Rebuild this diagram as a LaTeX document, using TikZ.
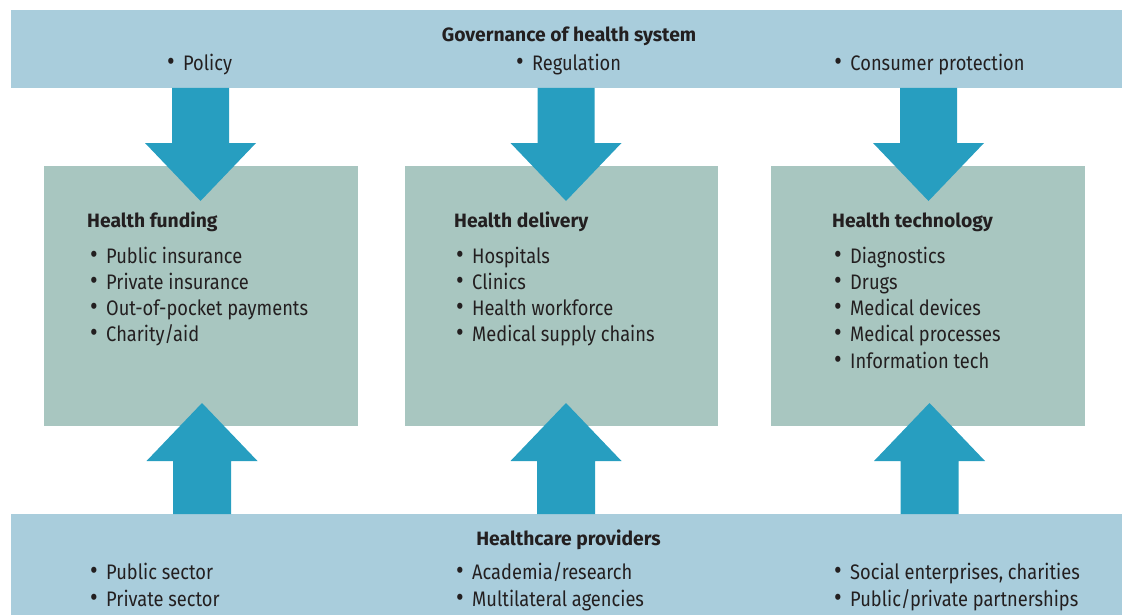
\documentclass[tikz,border=0pt]{standalone}
\usepackage{fontspec}
\setmainfont{Fira Sans}
\newfontfamily\itemfont{Fira Sans}[FakeStretch=0.87]
\definecolor{band}{HTML}{A9CDDC}
\definecolor{boxg}{HTML}{A8C6C0}
\definecolor{arr}{HTML}{279EC0}
\definecolor{ink}{HTML}{231F20}
\tikzset{
  bandbox/.style={fill=band, draw=none},
  greenbox/.style={fill=boxg, draw=none},
  blockarrow/.style={fill=arr, draw=none},
  head/.style={font=\fontsize{19.3}{23}\selectfont\bfseries, text=ink, inner sep=0pt},
  item/.style={font=\itemfont\fontsize{21}{24}\selectfont, text=ink, inner sep=0pt, anchor=base west},
  citem/.style={font=\itemfont\fontsize{21}{24}\selectfont, text=ink, inner sep=0pt, anchor=base},
}
\newcommand{\bul}[1]{\makebox[16pt][l]{{\fontsize{27}{27}\selectfont\textbullet}}#1}
\begin{document}
\begin{tikzpicture}[x=1pt,y=-1pt]
\useasboundingbox (0,0) rectangle (1126,615);
% bands
\path[bandbox] (11,10) rectangle (1122,88);
\path[bandbox] (11,514) rectangle (1122,615);
% green boxes
\path[greenbox] (44,166) rectangle (358,426);
\path[greenbox] (405,166) rectangle (718,426);
\path[greenbox] (771,166) rectangle (1085,426);
% down arrows
\foreach \c in {200.5,566,928.5}{
  \path[blockarrow] (\c-28.5,88) -- (\c+28.5,88) -- (\c+28.5,143) -- (\c+55.5,143)
    -- (\c,201) -- (\c-55.5,143) -- (\c-28.5,143) -- cycle;
}
% up arrows
\foreach \c in {202,566,929.5}{
  \path[blockarrow] (\c-29,514) -- (\c+29,514) -- (\c+29,461) -- (\c+55.5,461)
    -- (\c,403) -- (\c-55.5,461) -- (\c-29,461) -- cycle;
}
% top texts
\node[head, anchor=base] (govt) at (569,42) {Governance of health system};
\node[citem] (pol) at (199.5,71) {\bul{Policy}};
\node[citem] (reg) at (568.5,71) {\bul{Regulation}};
\node[citem] (con) at (929.5,71) {\bul{Consumer protection}};
% box 1
\node[head, anchor=base west] (h1) at (87,227) {Health funding};
\node[item] (f1) at (90,263) {\bul{Public insurance}};
\node[item] (f2) at (90,289.3) {\bul{Private insurance}};
\node[item] (f3) at (90,315.6) {\bul{Out-of-pocket payments}};
\node[item] (f4) at (90,341.9) {\bul{Charity/aid}};
% box 2
\node[head, anchor=base west] (h2) at (454,227) {Health delivery};
\node[item] (d1) at (456,263) {\bul{Hospitals}};
\node[item] (d2) at (456,289.3) {\bul{Clinics}};
\node[item] (d3) at (456,315.6) {\bul{Health workforce}};
\node[item] (d4) at (456,341.9) {\bul{Medical supply chains}};
% box 3
\node[head, anchor=base west] (h3) at (832,227) {Health technology};
\node[item] (t1) at (834,263) {\bul{Diagnostics}};
\node[item] (t2) at (834,289.3) {\bul{Drugs}};
\node[item] (t3) at (834,315.6) {\bul{Medical devices}};
\node[item] (t4) at (834,341.9) {\bul{Medical processes}};
\node[item] (t5) at (834,368.2) {\bul{Information tech}};
% bottom texts
\node[head, anchor=base] (hp) at (568.5,545) {Healthcare providers};
\node[item] (p1) at (90,579.5) {\bul{Public sector}};
\node[item] (p2) at (90,606) {\bul{Private sector}};
\node[item] (p3) at (456,579.5) {\bul{Academia/research}};
\node[item] (p4) at (456,606) {\bul{Multilateral agencies}};
\node[item] (p5) at (834,579.5) {\bul{Social enterprises, charities}};
\node[item] (p6) at (834,606) {\bul{Public/private partnerships}};
\end{tikzpicture}
\end{document}
